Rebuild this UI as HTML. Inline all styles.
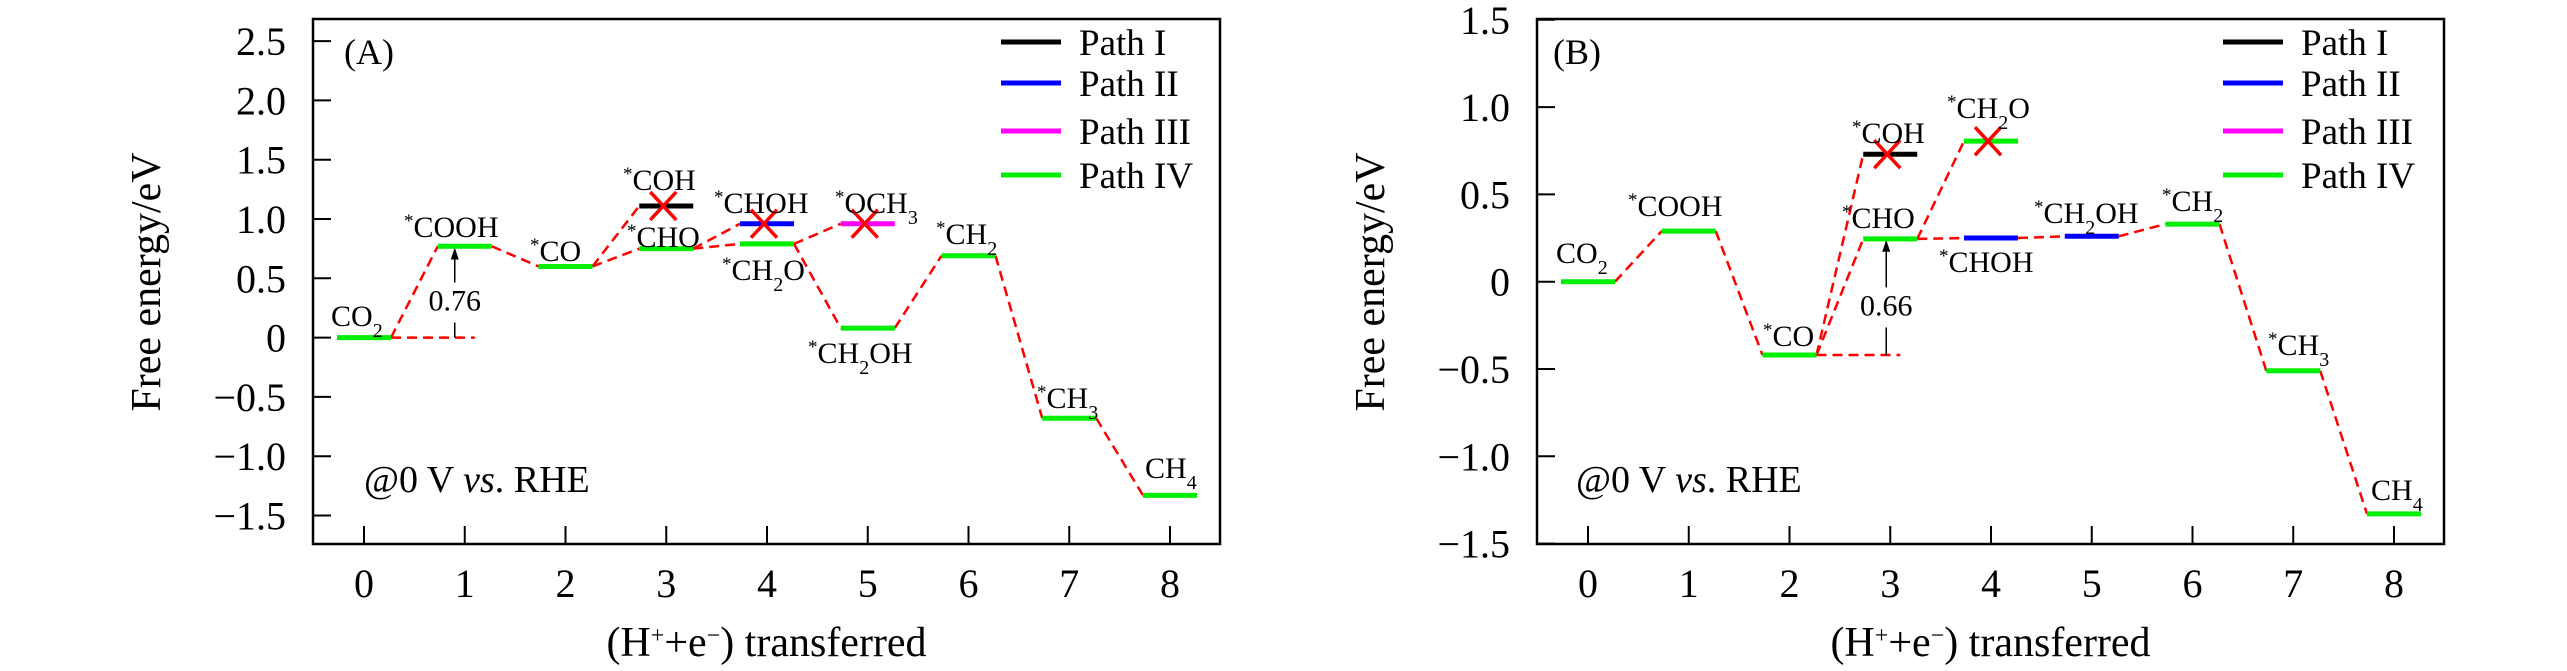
<!DOCTYPE html>
<html><head><meta charset="utf-8"><style>
html,body{margin:0;padding:0;background:#fff;}
svg{display:block;}
text{font-family:"Liberation Serif",serif;fill:#000;}
</style></head><body>
<svg id="chart" width="2567" height="671" viewBox="0 0 2567 671" xmlns="http://www.w3.org/2000/svg"></svg>
<script>
// ---- Panel A data ----
const stepsA = [0, 1, 2, 3, 3, 4, 4, 5, 5, 6, 7, 8];
const valuesA = [0, 0.77, 0.60, 0.75, 1.11, 0.79, 0.96, 0.96, 0.08, 0.69, -0.68, -1.33];
const pathsA = ['IV','IV','IV','IV','I','IV','II','III','IV','IV','IV','IV'];
const blockedA = [false,false,false,false,true,false,true,true,false,false,false,false];
const linksA = [[0,1],[1,2],[2,3],[2,4],[3,5],[3,6],[5,7],[5,8],[8,9],[9,10],[10,11]];
const yTicksA = [-1.5,-1.0,-0.5,0,0.5,1.0,1.5,2.0,2.5];
const yTickLabelsA = ['\u22121.5','\u22121.0','\u22120.5','0','0.5','1.0','1.5','2.0','2.5'];
// ---- Panel B data ----
const stepsB = [0, 1, 2, 3, 3, 4, 4, 5, 6, 7, 8];
const valuesB = [0, 0.29, -0.42, 0.245, 0.73, 0.805, 0.25, 0.26, 0.33, -0.51, -1.33];
const pathsB = ['IV','IV','IV','IV','I','IV','II','II','IV','IV','IV'];
const blockedB = [false,false,false,false,true,true,false,false,false,false,false];
const linksB = [[0,1],[1,2],[2,3],[2,4],[3,5],[3,6],[6,7],[7,8],[8,9],[9,10]];
const yTicksB = [-1.5,-1.0,-0.5,0,0.5,1.0,1.5];
const yTickLabelsB = ['\u22121.5','\u22121.0','\u22120.5','0','0.5','1.0','1.5'];
const xTicks = [0,1,2,3,4,5,6,7,8];
const legendNames = ['Path I','Path II','Path III','Path IV'];
const barrierA = 0.76, barrierB = 0.66;

const pathColor = {I:'#000000', II:'#0000ff', III:'#ff00ff', IV:'#00ee00'};
const NS = 'http://www.w3.org/2000/svg';
const svg = document.getElementById('chart');
function el(tag, attrs, parent){
  const e = document.createElementNS(NS, tag);
  for (const k in attrs) e.setAttribute(k, attrs[k]);
  (parent||svg).appendChild(e);
  return e;
}

function panel(cfg){
  const g = el('g', {});
  
  
  const L = cfg.left, R = cfg.right, T = 19, B = 544;
  const X = s => cfg.x0 + s * cfg.dx;
  const Y = v => cfg.y0 - v * cfg.dy;
  const frame = el('rect', {x:L, y:T, width:R-L, height:B-T, fill:'none', stroke:'#000', 'stroke-width':2.5}, g);
  
  
  cfg.yTicks.forEach((v,i)=>{
    const t = el('line', {x1:L, x2:L+18, y1:Y(v), y2:Y(v), stroke:'#000','stroke-width':2}, g);
    
    
    const lb = el('text', {x:L-27, y:Y(v)+14, 'font-size':40, 'text-anchor':'end'}, g);
    lb.textContent = cfg.yLabels[i];
    
    
  });
  xTicks.forEach(s=>{
    const t = el('line', {x1:X(s), x2:X(s), y1:B, y2:B-18, stroke:'#000','stroke-width':2}, g);
    
    
    const lb = el('text', {x:X(s), y:597, 'font-size':40, 'text-anchor':'middle'}, g);
    lb.textContent = String(s);
    
    
  });
  const xt = el('text', {x:(L+R)/2, y:656, 'font-size':42, 'text-anchor':'middle'}, g);
  xt.innerHTML = '(H<tspan baseline-shift="super" font-size="24">+</tspan>+e<tspan baseline-shift="super" font-size="24">\u2212</tspan>) transferred';
  
  
  const yt = el('text', {x:0, y:0, 'font-size':42, 'text-anchor':'middle', transform:`translate(${cfg.yTitleX},282) rotate(-90)`}, g);
  yt.textContent = 'Free energy/eV';
  
  
  cfg.links.forEach(([a,b])=>{
    const ln = el('line', {x1:X(cfg.steps[a])+27, y1:Y(cfg.values[a]), x2:X(cfg.steps[b])-27, y2:Y(cfg.values[b]), stroke:'#ff0000','stroke-width':2.5,'stroke-dasharray':'10,6'}, g);
    
    
  });
  const bi = cfg.barrierFrom;
  const hy = Y(cfg.values[bi]);
  const hl = el('line', {x1:X(cfg.steps[bi])+27, y1:hy, x2:X(cfg.steps[bi]+1)+10, y2:hy, stroke:'#ff0000','stroke-width':2.5,'stroke-dasharray':'10,6'}, g);
  
  
  const ax = X(cfg.steps[bi]+1) + cfg.arrowOff;
  const topY = Y(cfg.values[bi] + cfg.barrier);
  const ar = el('line', {x1:ax, y1:hy, x2:ax, y2:topY+8, stroke:'#000','stroke-width':1.5}, g);
  
  
  const ah = el('path', {d:`M${ax-4},${topY+12} L${ax},${topY} L${ax+4},${topY+12} Z`, fill:'#000'}, g);
  
  
  const bt = el('rect', {x:ax-26, y:(hy+topY)/2-10, width:52, height:40, fill:'#fff'}, g);
  
  
  const bl = el('text', {x:ax, y:(hy+topY)/2+18, 'font-size':30, 'text-anchor':'middle'}, g);
  bl.textContent = cfg.barrier.toFixed(2);
  
  
  cfg.steps.forEach((s,i)=>{
    const lv = el('line', {x1:X(s)-27, x2:X(s)+27, y1:Y(cfg.values[i]), y2:Y(cfg.values[i]), stroke:pathColor[cfg.paths[i]], 'stroke-width':5}, g);
    
    
  });
  cfg.steps.forEach((s,i)=>{
    if(!cfg.blocked[i]) return;
    const cx = X(s)-3, cy = Y(cfg.values[i]);
    const m = el('path', {d:`M${cx-13},${cy-14} L${cx+13},${cy+14} M${cx+13},${cy-14} L${cx-13},${cy+14}`, stroke:'#ff0000','stroke-width':3.5, fill:'none'}, g);
    
    
  });
  cfg.labels.forEach(([x,y,html])=>{
    const t = el('text', {x:x, y:y, 'font-size':30}, g);
    t.innerHTML = html;
    
    
  });
  const pt = el('text', {x:cfg.tagX, y:64, 'font-size':36}, g);
  pt.textContent = cfg.tag;
  
  
  const pot = el('text', {x:cfg.potX, y:492, 'font-size':38}, g);
  pot.innerHTML = '@0 V <tspan font-style="italic">vs</tspan>. RHE';
  
  
  legendNames.forEach((n,i)=>{
    const ly = [42,83,131,175][i];
    const ll = el('line', {x1:cfg.legX, x2:cfg.legX+60, y1:ly, y2:ly, stroke:pathColor[['I','II','III','IV'][i]], 'stroke-width':5}, g);
    
    
    const lt = el('text', {x:cfg.legX+78, y:ly+13, 'font-size':37}, g);
    lt.textContent = n;
    
    
  });
}

const S = '<tspan baseline-shift="super" font-size="19">*</tspan>';
const sub = d => `<tspan baseline-shift="sub" font-size="20">${d}</tspan>`;

panel({name:'panel-a', left:313, right:1220, x0:364, dx:100.75, y0:337.6, dy:118.6,
  steps:stepsA, values:valuesA, paths:pathsA, blocked:blockedA, links:linksA,
  yTicks:yTicksA, yLabels:yTickLabelsA, yTitleX:160, barrierFrom:0, barrier:barrierA, arrowOff:-10,
  tag:'(A)', tagX:344, potX:364, legX:1001,
  labels:[[331,326,'CO'+sub('2')],[404,237,S+'COOH'],[530,261,S+'CO'],[623,190,S+'COH'],[627,247,S+'CHO'],
    [714,213,S+'CHOH'],[722,280,S+'CH'+sub('2')+'O'],[835,213,S+'OCH'+sub('3')],[808,363,S+'CH'+sub('2')+'OH'],
    [936,244,S+'CH'+sub('2')],[1037,408,S+'CH'+sub('3')],[1145,478,'CH'+sub('4')]]
});
panel({name:'panel-b', left:1537, right:2444, x0:1588, dx:100.75, y0:281.7, dy:174.6,
  steps:stepsB, values:valuesB, paths:pathsB, blocked:blockedB, links:linksB,
  yTicks:yTicksB, yLabels:yTickLabelsB, yTitleX:1384, barrierFrom:2, barrier:barrierB, arrowOff:-4,
  tag:'(B)', tagX:1553, potX:1576, legX:2223,
  labels:[[1556,263,'CO'+sub('2')],[1628,216,S+'COOH'],[1763,346,S+'CO'],[1852,143,S+'COH'],[1842,228,S+'CHO'],
    [1947,118,S+'CH'+sub('2')+'O'],[1939,272,S+'CHOH'],[2034,223,S+'CH'+sub('2')+'OH'],[2162,211,S+'CH'+sub('2')],
    [2268,355,S+'CH'+sub('3')],[2371,500,'CH'+sub('4')]]
});
</script>
</body></html>
